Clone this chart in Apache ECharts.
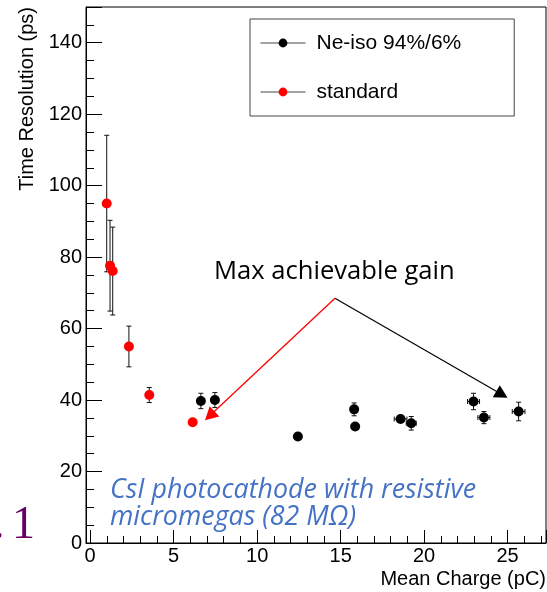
<!DOCTYPE html>
<html>
<head>
<meta charset="utf-8">
<script src="https://cdn.jsdelivr.net/npm/echarts@6/dist/echarts.min.js"></script>
<style>
html,body{margin:0;padding:0;background:#fff;}
#chart{width:547px;height:592px;}
</style>
</head>
<body>
<div id="chart"></div>
<script>
// ---- data ----
const neName = 'Ne-iso 94%/6%';
const neX    = [6.63, 7.47, 12.44, 15.81, 15.87, 18.59, 19.23, 22.96, 23.58, 25.66];
const neY    = [39.75, 40.0, 29.8, 37.4, 32.6, 34.7, 33.5, 39.6, 35.1, 36.8];
const neXErr = [0.1, 0.1, 0.1, 0.15, 0.1, 0.38, 0.3, 0.36, 0.36, 0.38];
const neYErr = [2.15, 2.1, 0.8, 1.8, 0.8, 1.0, 1.9, 2.3, 1.7, 2.6];

const stdName = 'standard';
const stdX    = [0.99, 1.19, 1.35, 2.32, 3.54, 6.14];
const stdY    = [95.0, 77.6, 76.1, 55.0, 41.4, 33.8];
const stdXErr = [0, 0, 0, 0, 0, 0];
const stdYErr = [19.1, 12.7, 12.3, 5.7, 2.1, 0.5];

// annotation arrows (data coordinates): apex, red head, black head
const arrowApex  = [14.66, 68.5];
const arrowRed   = [7.16, 35.6];
const arrowBlack = [24.66, 41.56];

const xTitle = 'Mean Charge (pC)';
const yTitle = 'Time Resolution (ps)';
const noteGain = 'Max achievable gain';
const noteCsI = 'CsI photocathode with resistive\nmicromegas (82 M\u03A9)';

// ---- build ----
function rows(xs, ys, exs, eys) {
  return xs.map((x, i) => [x, ys[i], exs[i], eys[i]]);
}
function pts(xs, ys) { return xs.map((x, i) => [x, ys[i]]); }

function errRender(params, api) {
  const x = api.value(0), y = api.value(1), ex = api.value(2), ey = api.value(3);
  const c = api.coord([x, y]);
  const st = {stroke: '#111', lineWidth: 1, fill: null};
  const cap = 2.5;
  const kids = [];
  if (ey > 0) {
    const t = api.coord([x, y + ey])[1], b = api.coord([x, y - ey])[1];
    kids.push({type: 'line', shape: {x1: c[0], y1: t, x2: c[0], y2: b}, style: st});
    kids.push({type: 'line', shape: {x1: c[0] - cap, y1: t, x2: c[0] + cap, y2: t}, style: st});
    kids.push({type: 'line', shape: {x1: c[0] - cap, y1: b, x2: c[0] + cap, y2: b}, style: st});
  }
  if (ex > 0) {
    const l = api.coord([x - ex, y])[0], r = api.coord([x + ex, y])[0];
    kids.push({type: 'line', shape: {x1: l, y1: c[1], x2: r, y2: c[1]}, style: st});
    kids.push({type: 'line', shape: {x1: l, y1: c[1] - cap, x2: l, y2: c[1] + cap}, style: st});
    kids.push({type: 'line', shape: {x1: r, y1: c[1] - cap, x2: r, y2: c[1] + cap}, style: st});
  }
  return {type: 'group', children: kids};
}

const axisFont = 'Liberation Sans';
const chart = echarts.init(document.getElementById('chart'), null, {renderer: 'canvas'});

chart.setOption({
  animation: false,
  backgroundColor: '#fff',
  grid: {left: 86, right: 1, top: 7, bottom: 49, show: true, borderColor: '#000', borderWidth: 1,
         containLabel: false, outerBoundsMode: 'none'},
  xAxis: {
    type: 'value', min: -0.25, max: 27.3, splitNumber: 5,
    name: xTitle, nameLocation: 'end', nameGap: 0, nameMoveOverlap: false,
    nameTextStyle: {fontFamily: axisFont, fontSize: 20, color: '#000', align: 'right', verticalAlign: 'top', padding: [26, 0, 0, 0]},
    axisLine: {show: true, onZero: false, lineStyle: {color: '#000', width: 1}},
    axisTick: {show: true, inside: true, length: 13, lineStyle: {color: '#000'}},
    minorTick: {show: true, splitNumber: 5, length: 7, lineStyle: {color: '#000'}},
    axisLabel: {fontFamily: axisFont, fontSize: 20, color: '#000', margin: 3, showMinLabel: false, showMaxLabel: false, hideOverlap: false},
    splitLine: {show: false}
  },
  yAxis: {
    type: 'value', min: 0, max: 150, interval: 20,
    name: yTitle, nameLocation: 'end', nameGap: 0, nameRotate: 90, nameMoveOverlap: false,
    nameTextStyle: {fontFamily: axisFont, fontSize: 20, color: '#000', align: 'right', verticalAlign: 'bottom', padding: [0, 0, 49, 0]},
    axisLine: {show: true, onZero: false, lineStyle: {color: '#000', width: 1}},
    axisTick: {show: true, inside: true, length: 16, lineStyle: {color: '#000'}},
    minorTick: {show: true, splitNumber: 4, length: 8, lineStyle: {color: '#000'}},
    axisLabel: {fontFamily: axisFont, fontSize: 20, color: '#000', margin: 4, showMaxLabel: false, hideOverlap: false},
    splitLine: {show: false}
  },
  legend: {
    data: [neName, stdName],
    orient: 'vertical', left: 250, top: 19,
    itemWidth: 45, itemHeight: 11, itemGap: 27,
    padding: [13, 53, 13, 10],
    borderColor: '#444', borderWidth: 1, backgroundColor: '#fff', borderRadius: 0,
    selectedMode: false,
    textStyle: {fontFamily: axisFont, fontSize: 21, color: '#000', lineHeight: 22, padding: [0, 0, 0, 6]},
    lineStyle: {color: '#444', width: 1, opacity: 1}
  },
  series: [
    {type: 'custom', name: 'errNe', data: rows(neX, neY, neXErr, neYErr), renderItem: errRender,
     encode: {x: 0, y: 1}, silent: true, z: 2},
    {type: 'custom', name: 'errStd', data: rows(stdX, stdY, stdXErr, stdYErr), renderItem: errRender,
     encode: {x: 0, y: 1}, silent: true, z: 2},
    {type: 'line', name: neName, data: pts(neX, neY), symbol: 'circle', symbolSize: 10, showSymbol: true,
     itemStyle: {color: '#000'}, lineStyle: {opacity: 0, width: 1, color: '#444'}, z: 3, silent: true,
     emphasis: {disabled: true},
     markLine: {silent: true, symbol: ['none', 'triangle'], label: {show: false}, emphasis: {disabled: true},
       lineStyle: {color: '#000', width: 1.2, type: 'solid'},
       data: [[{coord: arrowApex, symbol: 'none'}, {coord: arrowBlack, symbol: 'triangle', symbolSize: [14, 13]}]]}},
    {type: 'line', name: stdName, data: pts(stdX, stdY), symbol: 'circle', symbolSize: 10, showSymbol: true,
     itemStyle: {color: '#ff0000'}, lineStyle: {opacity: 0, width: 1, color: '#444'}, z: 3, silent: true,
     emphasis: {disabled: true},
     markLine: {silent: true, symbol: ['none', 'triangle'], label: {show: false}, emphasis: {disabled: true},
       lineStyle: {color: '#ff0000', width: 1.3, type: 'solid'},
       data: [[{coord: arrowApex, symbol: 'none'}, {coord: arrowRed, symbol: 'triangle', symbolSize: [14, 13]}]]}}
  ],
  graphic: [
    {type: 'text', x: 214, y: 272, silent: true,
     style: {text: noteGain, font: '25.6px "Open Sans"', fill: '#000', verticalAlign: 'middle', align: 'left'}},
    {type: 'text', x: 110, y: 504, silent: true,
     style: {text: noteCsI, font: 'italic 26.8px "Open Sans"', fill: '#4472C4', lineHeight: 26.6, verticalAlign: 'middle', align: 'left'}},
    {type: 'text', x: 12, y: 526, silent: true,
     style: {text: '1', font: '46px "Liberation Serif"', fill: '#650065', verticalAlign: 'middle', align: 'left'}},
    {type: 'text', x: -7, y: 526, silent: true,
     style: {text: '.', font: '46px "Liberation Serif"', fill: '#650065', verticalAlign: 'middle', align: 'left'}}
  ]
});
</script>
</body>
</html>
